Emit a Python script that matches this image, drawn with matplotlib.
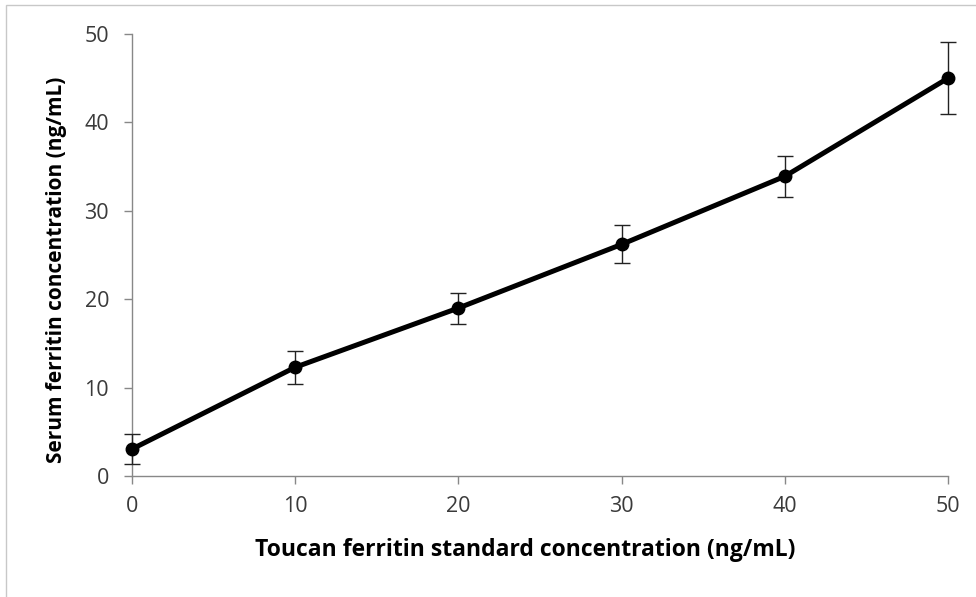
import matplotlib
matplotlib.use("Agg")
import matplotlib.pyplot as plt
from matplotlib.patches import Rectangle

plt.rcParams['font.family'] = ['Open Sans', 'DejaVu Sans']

x_vals = [0, 10, 20, 30, 40, 50]
y_vals = [3.05, 12.3, 19.0, 26.2, 33.9, 45.0]
y_err = [1.7, 1.85, 1.75, 2.15, 2.3, 4.05]
x_ticks = [0, 10, 20, 30, 40, 50]
y_ticks = [0, 10, 20, 30, 40, 50]

W, H = 976, 597
fig = plt.figure(figsize=(W / 100, H / 100), dpi=100)
fig.patches.append(Rectangle((6 / W, -0.01), 1.02, (H - 5) / H + 0.01, transform=fig.transFigure,
                             fill=False, edgecolor='#c8c8c8', linewidth=1.0))
ax = fig.add_axes([132 / W, (H - 476) / H, (948 - 132) / W, (476 - 34) / H])

ax.errorbar(x_vals, y_vals, yerr=y_err, color='black', linewidth=3.6, marker='o', markersize=9,
            ecolor='#222222', elinewidth=1.0, capsize=6, capthick=1.0, zorder=3)

ax.set_xlim(0, 50)
ax.set_ylim(0, 50)
ax.set_xticks(x_ticks)
ax.set_yticks(y_ticks)
for s in ['top', 'right']:
    ax.spines[s].set_visible(False)
for s in ['left', 'bottom']:
    ax.spines[s].set_color('#888888')
    ax.spines[s].set_linewidth(1.0)
ax.tick_params(axis='both', direction='out', length=5.5, width=1.0, color='#888888',
               labelsize=15.5, labelcolor='#3a3a3a')
ax.tick_params(axis='x', pad=9)
ax.tick_params(axis='y', pad=11)
ax.set_xlabel('Toucan ferritin standard concentration (ng/mL)', fontsize=16.5, fontweight='bold')
ax.set_ylabel('Serum ferritin concentration (ng/mL)', fontsize=15, fontweight='bold')
ax.xaxis.label.set_va('center')
ax.yaxis.label.set_va('center')
ax.xaxis.set_label_coords((525 - 132) / 816, (476 - 550) / 442)
ax.yaxis.set_label_coords((57 - 132) / 816, (476 - 270) / 442)
for c in ax.collections + ax.lines:
    c.set_clip_on(False)

fig.savefig('out.png', dpi=100)
